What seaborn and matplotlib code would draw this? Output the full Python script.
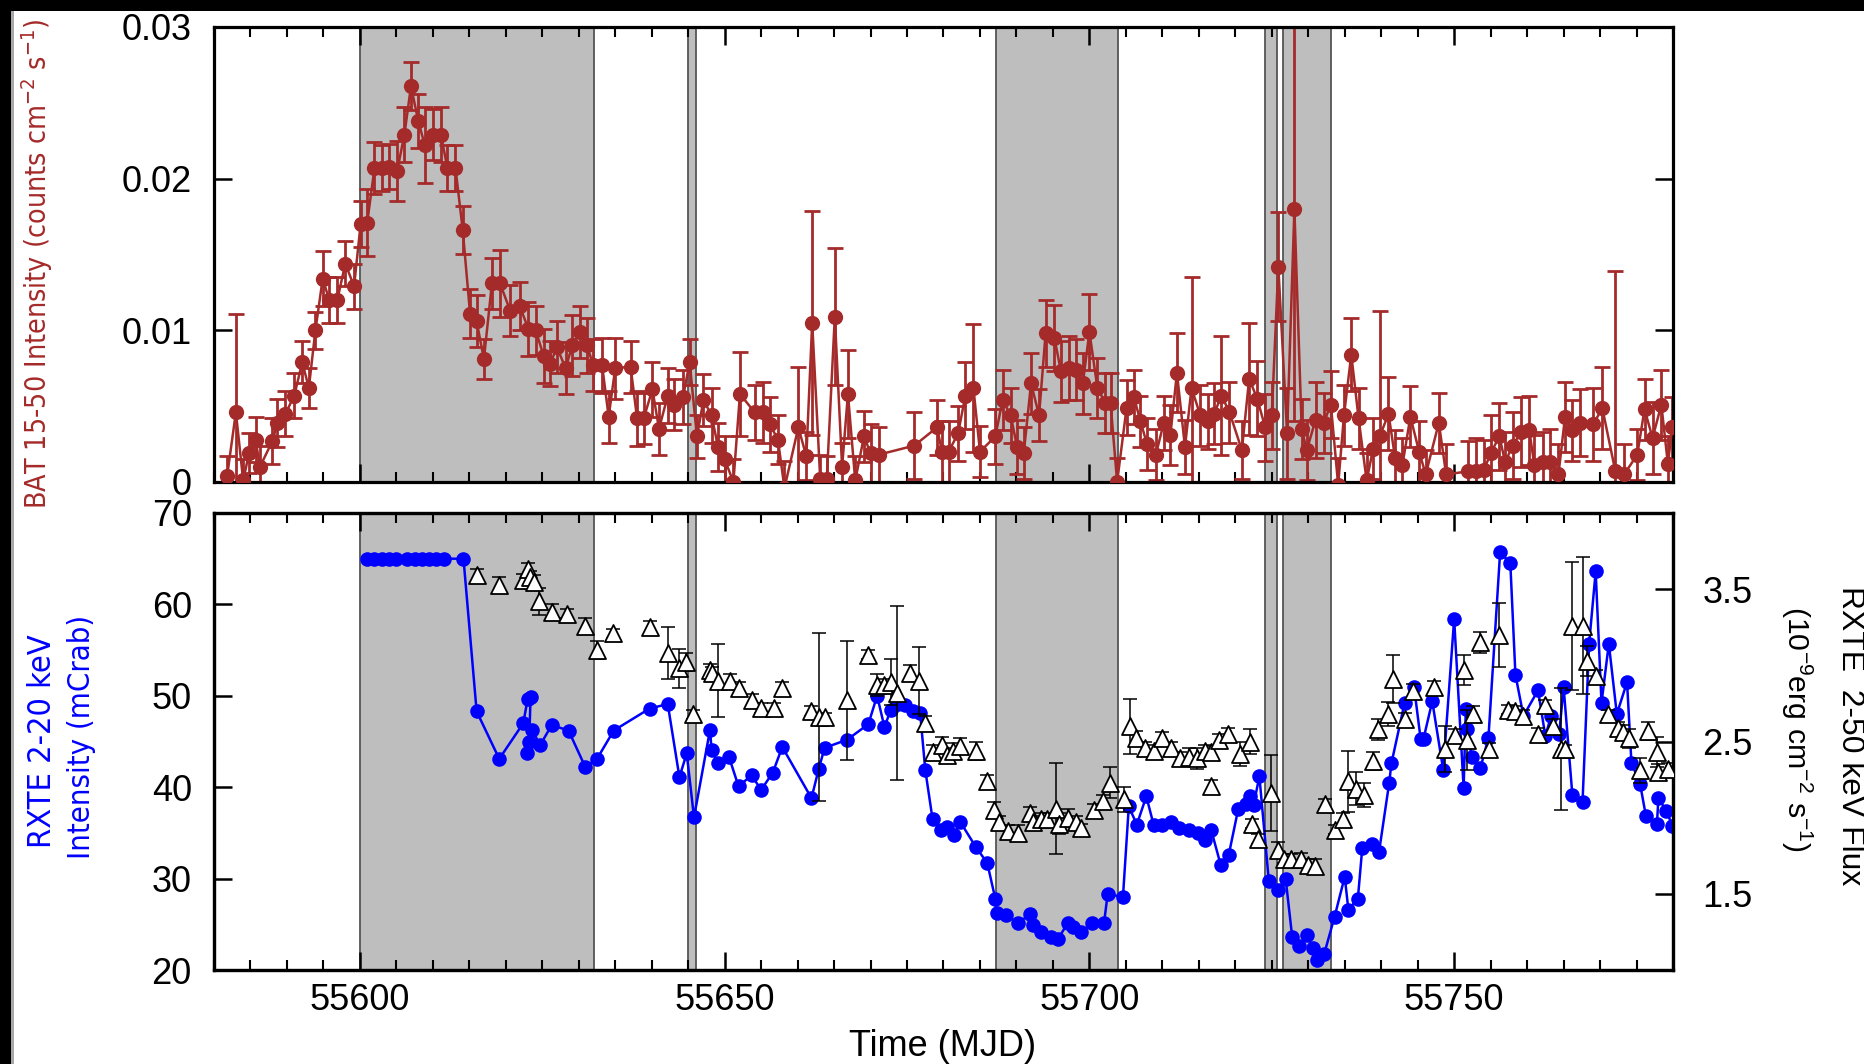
import matplotlib
matplotlib.use("Agg")
import matplotlib.pyplot as plt
from matplotlib.ticker import MultipleLocator, FixedLocator
from matplotlib.patches import Rectangle
from matplotlib import font_manager
from matplotlib.font_manager import FontProperties
import pandas as pd
import seaborn as sns

# ---------------- data ----------------
bands = [(55600.0, 55632.1), (55645.0, 55646.1), (55687.2, 55703.9),
         (55724.1, 55725.7), (55726.5, 55733.1)]

bat_mjd = [55581.8, 55583.0, 55584.0, 55584.8, 55585.7, 55586.3, 55588.0, 55588.7, 55589.8, 55591.0,
           55592.1, 55593.0, 55593.9, 55594.9, 55595.8, 55596.9, 55598.0, 55599.2, 55600.1, 55601.0,
           55602.0, 55603.0, 55604.0, 55605.1, 55606.1, 55607.0, 55608.0, 55608.9, 55610.0, 55611.1,
           55612.0, 55613.1, 55614.1, 55615.1, 55616.0, 55617.0, 55618.1, 55619.2, 55620.6, 55621.9,
           55623.1, 55624.1, 55625.2, 55626.1, 55627.0, 55628.2, 55629.1, 55630.2, 55631.1, 55632.0,
           55633.2, 55634.1, 55635.0, 55637.1, 55638.0, 55638.9, 55640.1, 55641.0, 55642.2, 55643.1,
           55644.3, 55645.2, 55646.2, 55647.1, 55648.2, 55649.1, 55650.0, 55651.2, 55652.1, 55654.1,
           55655.3, 55656.2, 55657.3, 55658.2, 55660.1, 55661.2, 55662.0, 55663.1, 55664.0, 55665.1,
           55666.1, 55666.9, 55667.9, 55669.1, 55670.0, 55671.1, 55676.0, 55679.1, 55679.8, 55680.7,
           55682.0, 55683.0, 55684.1, 55685.0, 55687.1, 55688.1, 55689.2, 55690.1, 55691.0, 55692.0,
           55693.1, 55694.0, 55695.2, 55696.1, 55697.2, 55698.1, 55699.1, 55700.0, 55701.1, 55702.2,
           55702.9, 55703.8, 55705.1, 55706.1, 55707.0, 55707.9, 55709.1, 55710.2, 55711.1, 55712.0,
           55713.1, 55714.0, 55715.2, 55716.2, 55717.1, 55718.1, 55719.2, 55720.9, 55721.9, 55723.0,
           55724.1, 55725.0, 55725.9, 55727.1, 55728.1, 55729.1, 55729.8, 55731.0, 55732.1, 55733.1,
           55734.1, 55734.9, 55735.9, 55736.9, 55738.0, 55738.9, 55739.8, 55741.0, 55741.9, 55742.9,
           55744.0, 55745.2, 55746.1, 55747.9, 55748.9, 55751.9, 55753.0, 55754.1, 55755.0, 55756.2,
           55757.0, 55758.0, 55759.2, 55760.3, 55761.0, 55762.2, 55763.1, 55764.3, 55765.2, 55766.1,
           55767.3, 55769.1, 55770.3, 55772.1, 55773.3, 55775.1, 55776.1, 55777.2, 55778.4, 55779.3,
           55779.9]

bat_rate = [0.0004, 0.0046, 0.0001, 0.0019, 0.0028, 0.0010, 0.0027, 0.0039, 0.0045, 0.0057,
            0.0079, 0.0062, 0.0100, 0.0134, 0.0120, 0.0120, 0.0144, 0.0129, 0.0170, 0.0171,
            0.0207, 0.0207, 0.0208, 0.0205, 0.0229, 0.0261, 0.0238, 0.0222, 0.0229, 0.0229,
            0.0207, 0.0207, 0.0166, 0.0111, 0.0106, 0.0081, 0.0131, 0.0131, 0.0113, 0.0116,
            0.0101, 0.0100, 0.0083, 0.0078, 0.0089, 0.0075, 0.0090, 0.0099, 0.0090, 0.0077,
            0.0077, 0.0043, 0.0075, 0.0076, 0.0042, 0.0042, 0.0061, 0.0035, 0.0057, 0.0051,
            0.0056, 0.0079, 0.0030, 0.0054, 0.0044, 0.0023, 0.0015, 0.0000, 0.0058, 0.0046,
            0.0046, 0.0038, 0.0028, -0.0004, 0.0036, 0.0017, 0.0105, 0.0002, 0.0002, 0.0109,
            0.0010, 0.0058, 0.0001, 0.0030, 0.0019, 0.0018, 0.0024, 0.0036, 0.0020, 0.0020,
            0.0032, 0.0057, 0.0062, 0.0020, 0.0030, 0.0054, 0.0044, 0.0023, 0.0019, 0.0065,
            0.0044, 0.0098, 0.0095, 0.0073, 0.0075, 0.0074, 0.0065, 0.0099, 0.0062, 0.0052,
            0.0052, 0.0000, 0.0049, 0.0056, 0.0040, 0.0025, 0.0018, 0.0039, 0.0031, 0.0072,
            0.0023, 0.0062, 0.0044, 0.0040, 0.0045, 0.0057, 0.0046, 0.0021, 0.0068, 0.0055,
            0.0036, 0.0044, 0.0142, 0.0032, 0.0180, 0.0035, 0.0021, 0.0041, 0.0039, 0.0051,
            -0.0002, 0.0044, 0.0084, 0.0042, 0.0001, 0.0022, 0.0030, 0.0045, 0.0016, 0.0011,
            0.0043, 0.0020, 0.0005, 0.0039, 0.0005, 0.0007, 0.0007, 0.0008, 0.0019, 0.0030,
            0.0013, 0.0024, 0.0033, 0.0034, 0.0011, 0.0013, 0.0013, 0.0005, 0.0043, 0.0034,
            0.0039, 0.0038, 0.0049, 0.0007, 0.0005, 0.0018, 0.0048, 0.0029, 0.0051, 0.0012,
            0.0036]

bat_err = [0.0013, 0.0065, 0.0014, 0.0013, 0.0015, 0.0014, 0.0015, 0.0016, 0.0015, 0.0015,
           0.0014, 0.0013, 0.0012, 0.0018, 0.0015, 0.0015, 0.0015, 0.0015, 0.0015, 0.0022,
           0.0017, 0.0015, 0.0015, 0.0020, 0.0018, 0.0016, 0.0018, 0.0025, 0.0017, 0.0018,
           0.0015, 0.0015, 0.0016, 0.0016, 0.0017, 0.0013, 0.0017, 0.0022, 0.0017, 0.0016,
           0.0018, 0.0016, 0.0018, 0.0015, 0.0017, 0.0017, 0.0020, 0.0017, 0.0018, 0.0017,
           0.0018, 0.0017, 0.0020, 0.0017, 0.0018, 0.0017, 0.0018, 0.0017, 0.0018, 0.0017,
           0.0018, 0.0015, 0.0014, 0.0017, 0.0018, 0.0016, 0.0015, 0.0015, 0.0028, 0.0018,
           0.0020, 0.0018, 0.0016, 0.0018, 0.0040, 0.0016, 0.0074, 0.0016, 0.0015, 0.0045,
           0.0016, 0.0029, 0.0016, 0.0017, 0.0019, 0.0018, 0.0022, 0.0018, 0.0020, 0.0020,
           0.0018, 0.0022, 0.0042, 0.0017, 0.0018, 0.0020, 0.0018, 0.0018, 0.0017, 0.0020,
           0.0017, 0.0022, 0.0022, 0.0020, 0.0021, 0.0020, 0.0020, 0.0025, 0.0020, 0.0020,
           0.0020, 0.0016, 0.0018, 0.0018, 0.0017, 0.0017, 0.0017, 0.0018, 0.0020, 0.0026,
           0.0018, 0.0073, 0.0020, 0.0018, 0.0020, 0.0039, 0.0020, 0.0019, 0.0037, 0.0025,
           0.0022, 0.0022, 0.0036, 0.0030, 0.0140, 0.0020, 0.0020, 0.0025, 0.0020, 0.0022,
           0.0018, 0.0020, 0.0024, 0.0020, 0.0018, 0.0020, 0.0083, 0.0024, 0.0018, 0.0018,
           0.0020, 0.0020, 0.0016, 0.0020, 0.0020, 0.0020, 0.0022, 0.0020, 0.0025, 0.0022,
           0.0020, 0.0022, 0.0023, 0.0023, 0.0020, 0.0020, 0.0022, 0.0020, 0.0023, 0.0020,
           0.0022, 0.0024, 0.0027, 0.0132, 0.0020, 0.0017, 0.0020, 0.0024, 0.0023, 0.0018,
           0.0020]

rxte_mjd = [55601.0, 55602.0, 55603.0, 55604.0, 55605.0, 55606.5, 55607.5, 55608.5, 55609.5, 55610.5,
            55611.5, 55614.2,
            55616.0, 55619.1, 55622.4, 55623.0, 55623.4, 55623.2, 55622.9, 55623.6, 55624.7, 55626.3,
            55628.6, 55630.9, 55632.5, 55634.8, 55639.7, 55642.2, 55643.8, 55644.8, 55645.8, 55648.0,
            55648.2, 55649.1, 55650.6, 55651.9, 55653.7, 55655.0, 55656.6, 55657.9, 55661.9, 55662.9,
            55663.7, 55666.8, 55669.7, 55670.9, 55671.9, 55672.8, 55673.8, 55674.7, 55675.8, 55676.8,
            55677.5, 55678.5, 55679.7, 55680.5, 55681.5, 55682.3, 55684.4, 55686.0, 55687.1, 55687.3,
            55688.6, 55690.2, 55691.8, 55692.3, 55693.4, 55694.7, 55695.7, 55697.0, 55697.8, 55698.9,
            55700.4, 55702.0, 55702.5, 55704.6, 55705.4, 55706.5, 55707.8, 55708.8, 55709.9, 55711.2,
            55712.3, 55713.6, 55714.9, 55715.8, 55716.7, 55718.0, 55719.1, 55720.4, 55721.4, 55722.0,
            55722.5, 55723.3, 55724.6, 55725.8, 55726.9, 55727.8, 55728.8, 55729.8, 55730.7, 55731.2,
            55732.2, 55733.6, 55735.0, 55735.5, 55736.8, 55737.4, 55738.8, 55739.7, 55741.1, 55741.4,
            55743.2, 55744.5, 55745.4, 55745.8, 55747.0, 55748.5, 55750.0, 55751.3, 55751.6, 55751.8,
            55752.4, 55753.6, 55754.7, 55756.3, 55757.7, 55758.4, 55759.5, 55761.5, 55762.5, 55763.3,
            55764.4, 55765.0, 55766.2, 55767.6, 55768.5, 55769.4, 55770.2, 55771.2, 55772.3, 55773.7,
            55774.3, 55775.5, 55776.3, 55777.8, 55778.0, 55779.1, 55779.9]

rxte_mcrab = [65.0, 65.0, 65.0, 65.0, 65.0, 65.0, 65.0, 65.0, 65.0, 65.0,
              65.0, 65.0,
              48.3, 43.1, 47.0, 49.7, 49.9, 45.0, 43.7, 46.3, 44.6, 46.8,
              46.2, 42.2, 43.1, 46.2, 48.6, 49.1, 41.1, 43.7, 36.7, 46.3,
              44.1, 42.6, 43.3, 40.1, 41.3, 39.7, 41.6, 44.4, 38.8, 42.0,
              44.3, 45.2, 46.9, 50.0, 46.6, 48.5, 49.1, 49.0, 48.3, 48.1,
              41.9, 36.5, 35.3, 35.7, 34.8, 36.2, 33.5, 31.7, 27.8, 26.2,
              26.0, 25.1, 26.1, 24.9, 24.2, 23.6, 23.4, 25.1, 24.7, 24.2,
              25.1, 25.1, 28.3, 28.0, 37.9, 35.9, 39.0, 35.9, 35.9, 36.2,
              35.5, 35.3, 35.0, 34.2, 35.3, 31.5, 32.6, 37.6, 38.2, 39.0,
              38.0, 41.2, 29.7, 28.7, 30.0, 23.6, 22.6, 23.8, 22.4, 21.1,
              21.8, 25.8, 30.2, 26.6, 27.8, 33.3, 33.8, 32.9, 40.5, 42.6,
              49.2, 51.0, 45.3, 45.3, 49.4, 41.9, 58.4, 39.9, 48.6, 46.4,
              43.3, 42.1, 45.4, 65.7, 64.5, 52.3, 47.8, 50.6, 45.6, 47.8,
              45.8, 51.0, 39.2, 38.4, 55.7, 63.6, 49.2, 55.7, 48.0, 51.5,
              42.7, 40.3, 36.8, 36.0, 38.8, 37.4, 35.8]

flux_mjd = [55616.0, 55619.1, 55622.4, 55623.1, 55623.3, 55623.8, 55624.6, 55626.4, 55628.4, 55630.9,
            55632.5, 55634.7, 55639.7, 55642.2, 55643.7, 55644.7, 55645.7, 55648.0, 55648.2, 55649.1,
            55650.8, 55652.0, 55653.7, 55655.0, 55656.7, 55657.8, 55661.8, 55662.9, 55663.7, 55666.8,
            55669.7, 55670.9, 55671.9, 55672.8, 55673.6, 55675.4, 55676.6, 55677.5, 55678.5, 55679.8,
            55680.5, 55681.3, 55682.3, 55684.5, 55686.0, 55686.9, 55687.6, 55688.9, 55690.2, 55691.8,
            55692.3, 55693.4, 55694.2, 55695.4, 55695.9, 55697.1, 55698.1, 55698.8, 55700.6, 55701.9,
            55702.8, 55704.7, 55705.5, 55706.4, 55707.6, 55708.9, 55709.9, 55711.2, 55712.4, 55713.6,
            55714.8, 55715.8, 55716.7, 55716.7, 55717.8, 55719.0, 55720.7, 55722.0, 55722.3, 55723.1,
            55724.9, 55725.8, 55726.7, 55727.6, 55729.0, 55729.9, 55730.9, 55732.3, 55733.6, 55734.8,
            55735.4, 55736.6, 55737.6, 55738.9, 55739.5, 55741.0, 55741.6, 55743.2, 55744.4, 55747.2,
            55748.7, 55750.1, 55751.3, 55751.8, 55752.6, 55753.6, 55754.8, 55756.2, 55757.4, 55758.4,
            55759.5, 55761.5, 55762.5, 55763.5, 55764.6, 55765.2, 55766.2, 55767.6, 55768.2, 55769.4,
            55771.1, 55772.5, 55773.1, 55774.0, 55775.5, 55776.6, 55777.8, 55778.0, 55779.3]

flux = [3.59, 3.53, 3.56, 3.63, 3.58, 3.55, 3.42, 3.35, 3.34, 3.26,
        3.10, 3.21, 3.25, 3.08, 2.98, 3.02, 2.68, 2.97, 2.95, 2.90,
        2.90, 2.85, 2.77, 2.72, 2.72, 2.85, 2.70, 2.66, 2.66, 2.77,
        3.07, 2.87, 2.87, 2.89, 2.82, 2.95, 2.90, 2.62, 2.43, 2.48,
        2.41, 2.44, 2.47, 2.44, 2.24, 2.05, 1.97, 1.91, 1.90, 2.03,
        1.97, 1.99, 1.99, 2.06, 1.96, 2.00, 1.97, 1.93, 2.05, 2.11,
        2.23, 2.12, 2.60, 2.52, 2.46, 2.44, 2.52, 2.46, 2.39, 2.40,
        2.39, 2.44, 2.43, 2.21, 2.51, 2.55, 2.42, 2.50, 1.96, 1.86,
        2.16, 1.79, 1.73, 1.73, 1.73, 1.69, 1.68, 2.09, 1.92, 1.99,
        2.24, 2.19, 2.15, 2.37, 2.58, 2.68, 2.91, 2.65, 2.83, 2.86,
        2.45, 2.54, 2.97, 2.51, 2.68, 3.15, 2.45, 3.20, 2.71, 2.70,
        2.67, 2.55, 2.74, 2.60, 2.45, 2.45, 3.26, 3.26, 3.03, 2.93,
        2.68, 2.59, 2.56, 2.52, 2.31, 2.57, 2.43, 2.30, 2.32]

flux_err = [0.04, 0.05, 0.04, 0.04, 0.04, 0.04, 0.09, 0.05, 0.03, 0.05,
            0.06, 0.03, 0.04, 0.17, 0.13, 0.06, 0.03, 0.04, 0.04, 0.24,
            0.04, 0.04, 0.04, 0.03, 0.03, 0.04, 0.03, 0.55, 0.03, 0.39,
            0.03, 0.07, 0.04, 0.15, 0.57, 0.05, 0.22, 0.05, 0.05, 0.05,
            0.05, 0.05, 0.05, 0.06, 0.04, 0.05, 0.04, 0.04, 0.05, 0.04,
            0.04, 0.04, 0.04, 0.30, 0.07, 0.06, 0.04, 0.03, 0.04, 0.04,
            0.10, 0.08, 0.18, 0.05, 0.04, 0.04, 0.04, 0.04, 0.04, 0.06,
            0.07, 0.04, 0.04, 0.04, 0.04, 0.04, 0.08, 0.08, 0.03, 0.03,
            0.25, 0.05, 0.03, 0.03, 0.04, 0.04, 0.05, 0.03, 0.03, 0.04,
            0.20, 0.11, 0.08, 0.06, 0.07, 0.08, 0.16, 0.04, 0.05, 0.04,
            0.15, 0.04, 0.10, 0.20, 0.05, 0.07, 0.04, 0.21, 0.03, 0.03,
            0.04, 0.04, 0.03, 0.05, 0.40, 0.03, 0.42, 0.45, 0.10, 0.04,
            0.03, 0.04, 0.05, 0.06, 0.08, 0.06, 0.10, 0.05, 0.04]

xticks = [55600, 55650, 55700, 55750]
top_yticks = [0, 0.01, 0.02, 0.03]
top_ylabels = ["0", "0.01", "0.02", "0.03"]
bot_yticks = [20, 30, 40, 50, 60, 70]
right_yticks = [1.5, 2.5, 3.5]

# ---------------- style ----------------
sns.set_theme(style="ticks")
avail = {f.name for f in font_manager.fontManager.ttflist}
base_font = "Liberation Sans" if "Liberation Sans" in avail else "DejaVu Sans"
plt.rcParams["font.family"] = [base_font, "DejaVu Sans"]
plt.rcParams["mathtext.default"] = "regular"


def find_condensed():
    """Look for an installed narrow/condensed regular sans face."""
    cands = []
    for f in font_manager.fontManager.ttflist:
        nm = f.name.lower()
        st = str(f.stretch).lower()
        narrow = ("narrow" in nm or "condensed" in nm or
                  st in ("condensed", "semi-condensed", "extra-condensed", "ultra-condensed"))
        if not narrow or f.style != "normal":
            continue
        w = f.weight if isinstance(f.weight, int) else (400 if f.weight in ("normal", "regular", "book") else 700)
        if w > 500:
            continue
        pri = 0 if "liberation" in nm else (1 if "dejavu" in nm else 2)
        cands.append((pri, f.fname))
    cands.sort()
    return cands[0][1] if cands else None


cond_path = find_condensed()


def label_fp(size):
    if cond_path:
        return FontProperties(fname=cond_path, size=size)
    return FontProperties(family=[base_font, "DejaVu Sans"], size=size)


BROWN = "#a52a2a"
BLUE = "#0000ff"
W, H = 1865, 1064

fig = plt.figure(figsize=(W / 100, H / 100), dpi=100)
fig.patch.set_facecolor("white")


def fx(px):
    return px / W


def fy(py):
    return 1 - py / H


L, R = 214, 1673
ax1 = fig.add_axes([fx(L), fy(482), fx(R - L), (482 - 27) / H])
ax2 = fig.add_axes([fx(L), fy(970), fx(R - L), (970 - 513) / H])
ax2r = ax2.twinx()

for ax in (ax1, ax2):
    ax.set_facecolor("white")
    for a, b in bands:
        ax.axvspan(a, b, facecolor="#bebebe", edgecolor="#555555", linewidth=1.3, zorder=0)

# top panel: BAT
bat_df = pd.DataFrame({"mjd": bat_mjd, "rate": bat_rate, "err": bat_err})
ax1.errorbar(bat_df["mjd"], bat_df["rate"], yerr=bat_df["err"], fmt="none",
             ecolor=BROWN, elinewidth=2.0, capsize=5.5, capthick=2.0, zorder=2)
sns.lineplot(data=bat_df, x="mjd", y="rate", ax=ax1, color=BROWN, sort=False,
             estimator=None, marker="o", markersize=11, markeredgecolor=BROWN,
             markeredgewidth=0, linewidth=1.8, zorder=3)

# bottom panel: RXTE 2-20 keV (left) and 2-50 keV flux (right)
rx_df = pd.DataFrame({"mjd": rxte_mjd, "mcrab": rxte_mcrab})
sns.lineplot(data=rx_df, x="mjd", y="mcrab", ax=ax2, color=BLUE, sort=False,
             estimator=None, marker="o", markersize=10.5, markeredgecolor=BLUE,
             markeredgewidth=0, linewidth=1.8, zorder=3)

fl_df = pd.DataFrame({"mjd": flux_mjd, "flux": flux, "err": flux_err})
ax2r.errorbar(fl_df["mjd"], fl_df["flux"], yerr=fl_df["err"], fmt="none",
              ecolor="black", elinewidth=1.1, capsize=5, capthick=1.1, zorder=2)
sns.scatterplot(data=fl_df, x="mjd", y="flux", ax=ax2r, marker="^", s=150,
                color="white", edgecolor="black", linewidth=1.3, zorder=4)

# axes setup
for ax in (ax1, ax2):
    ax.set_xlim(55580, 55780)
    ax.xaxis.set_major_locator(FixedLocator(xticks))
    ax.xaxis.set_minor_locator(MultipleLocator(5))
    ax.set_xlabel("")
    ax.set_ylabel("")
    ax.grid(False)

ax1.set_ylim(0, 0.03)
ax1.set_yticks(top_yticks)
ax1.set_yticklabels(top_ylabels)
ax1.tick_params(axis="x", which="both", direction="in", top=True, bottom=True, labelbottom=False)
ax1.tick_params(axis="y", which="both", direction="in", left=True, right=True, labelsize=26, pad=16)

ax2.set_ylim(20, 70)
ax2.set_yticks(bot_yticks)
ax2.set_yticklabels([str(v) for v in bot_yticks])
ax2.tick_params(axis="x", which="both", direction="in", top=True, bottom=True, labelsize=26, pad=9)
ax2.tick_params(axis="y", which="both", direction="in", left=True, right=False, labelsize=26, pad=16)

ax2r.set_ylim(1.0, 4.0)
ax2r.set_yticks(right_yticks)
ax2r.set_yticklabels([str(v) for v in right_yticks])
ax2r.set_ylabel("")
ax2r.tick_params(axis="y", which="both", direction="in", right=True, left=False, labelsize=26, pad=21)
ax2r.set_xlim(55580, 55780)

for ax in (ax1, ax2, ax2r):
    ax.tick_params(which="major", length=13, width=1.8, color="black", labelcolor="black")
    ax.tick_params(which="minor", length=7, width=1.5, color="black")
    for s in ax.spines.values():
        s.set_visible(True)
        s.set_linewidth(2.3)
        s.set_color("black")

# labels (fitted to the lengths measured on the reference)
fig.text(fx(943), fy(1047), "Time (MJD)", ha="center", va="center", fontsize=26, color="black")
t_bat = fig.text(fx(37), fy(264), "BAT 15-50 Intensity (counts cm$^{-2}$ s$^{-1}$)", rotation=90,
                 ha="center", va="center", color=BROWN, fontproperties=label_fp(24))
t_rx1 = fig.text(fx(43), fy(741), "RXTE 2-20 keV", rotation=90, ha="center", va="center",
                 color=BLUE, fontproperties=label_fp(24))
t_rx2 = fig.text(fx(82), fy(737), "Intensity (mCrab)", rotation=90, ha="center", va="center",
                 color=BLUE, fontproperties=label_fp(24))
t_fl1 = fig.text(fx(1850), fy(736), "RXTE  2-50 keV Flux", rotation=270, ha="center", va="center",
                 fontsize=24, color="black")
t_fl2 = fig.text(fx(1797), fy(729), "(10$^{-9}$erg cm$^{-2}$ s$^{-1}$)", rotation=270, ha="center",
                 va="center", fontsize=24, color="black")

targets = [(t_bat, 490), (t_rx1, 214), (t_rx2, 244), (t_fl1, 300), (t_fl2, 246)]
for _ in range(3):
    fig.canvas.draw()
    rend = fig.canvas.get_renderer()
    for t, target in targets:
        h = t.get_window_extent(rend).height
        if h > 0:
            t.set_fontsize(t.get_fontsize() * target / h)

# screenshot frame edges
fig.patches.append(Rectangle((0, fy(11)), 1, 11 / H, transform=fig.transFigure,
                             facecolor="black", edgecolor="none", zorder=10))
fig.patches.append(Rectangle((0, 0), fx(11), 1, transform=fig.transFigure,
                             facecolor="black", edgecolor="none", zorder=10))
fig.patches.append(Rectangle((fx(11), 0), fx(3), fy(11), transform=fig.transFigure,
                             facecolor="#a8a8a8", edgecolor="none", zorder=10))

fig.savefig("out.png", dpi=100, facecolor="white")
